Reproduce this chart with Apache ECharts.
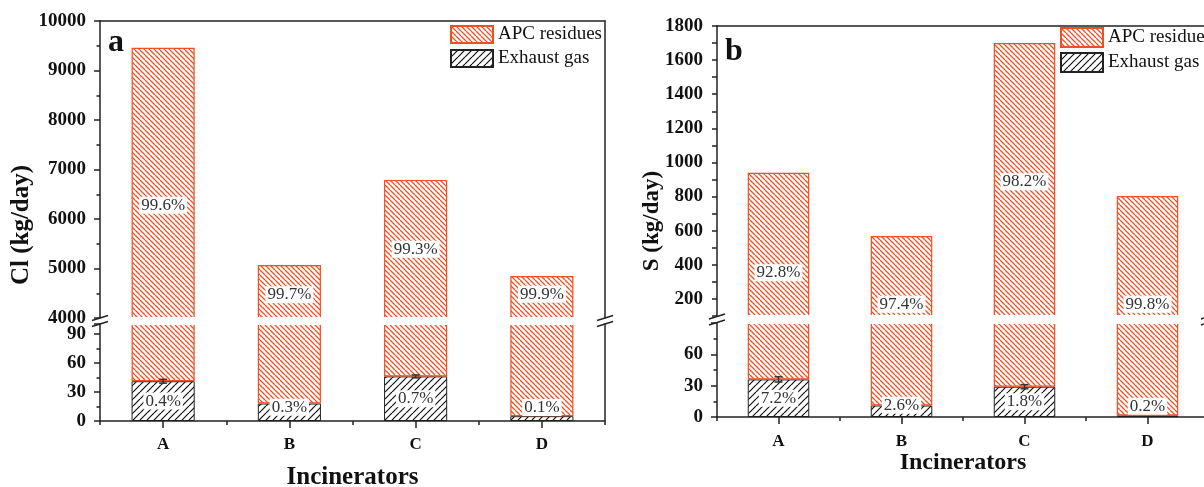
<!DOCTYPE html>
<html><head><meta charset="utf-8">
<script src="https://cdn.jsdelivr.net/npm/echarts@6/dist/echarts.min.js"></script>
<style>html,body{margin:0;padding:0;background:#fff}#c{width:1204px;height:487px}</style>
</head><body><div id="c"></div>
<script>
// ---------------- data ----------------
const categories = ['A', 'B', 'C', 'D'];
// Panel a : Cl (kg/day)
const clExhaust = [41, 18, 46, 5];
const clExhaustErr = [2, 0, 1.5, 0];
const clApc = [9420, 5052, 6744, 4845];
const clExhaustPct = ['0.4%', '0.3%', '0.7%', '0.1%'];
const clApcPct = ['99.6%', '99.7%', '99.3%', '99.9%'];
// Panel b : S (kg/day)
const sExhaust = [36, 11, 29, 1.5];
const sExhaustErr = [2.5, 0, 2, 0];
const sApc = [904, 558, 1671, 802];
const sExhaustPct = ['7.2%', '2.6%', '1.8%', '0.2%'];
const sApcPct = ['92.8%', '97.4%', '98.2%', '99.8%'];

// ---------------- styles / layout ----------------
const FONT = "'Liberation Serif', 'Times New Roman', serif";
const ORANGE = '#f04e23';
const DARK = '#222';
const LA = {left: 100, right: 605, upTop: 21, upBot: 318, loTop: 324, loBot: 421};
const LB = {left: 717, right: 1209, upTop: 26, upBot: 316, loTop: 323, loBot: 417};
// label pixel shifts (style only)
const clApcDy = [22, 3, 0, -3], clExhDy = [0, -5, 0, -11];
const sApcDy = [28, 28, 2, 48], sExhDy = [0, -6, 0, -10];

function hatch(color, dir, s, lw) {
  const c = document.createElement('canvas');
  c.width = s; c.height = s;
  const g = c.getContext('2d');
  g.fillStyle = '#fff'; g.fillRect(0, 0, s, s);
  g.strokeStyle = color; g.lineWidth = lw;
  g.beginPath();
  for (const k of [-s, 0, s]) {
    if (dir === '\\') { g.moveTo(k, 0); g.lineTo(k + s, s); }
    else { g.moveTo(k + s, 0); g.lineTo(k, s); }
  }
  g.stroke();
  return {image: c, repeat: 'repeat'};
}
const apcFill = hatch(ORANGE, '\\', 5, 1.3);
const exhFill = hatch('#111', '/', 7, 1.2);
const apcStyle = {color: apcFill, borderColor: ORANGE, borderWidth: 1.2};
const exhStyle = {color: exhFill, borderColor: DARK, borderWidth: 1};
const pctLabel = {show: true, position: 'inside', fontFamily: FONT, fontSize: 17, color: '#333',
  backgroundColor: '#fff', padding: [0, 2]};

function grid(L, up) {
  const g = up ? {left: L.left, top: L.upTop, width: L.right - L.left, height: L.upBot - L.upTop}
               : {left: L.left, top: L.loTop, width: L.right - L.left, height: L.loBot - L.loTop};
  g.outerBoundsMode = 'none';
  g.containLabel = false;
  return g;
}
const lineStyle = {color: DARK, width: 1.5};
const yLabel = {margin: 14, fontFamily: FONT, fontWeight: 'bold', fontSize: 19, color: '#111', formatter: v => String(v)};
function xTop(gi) {
  return {type: 'category', data: categories, gridIndex: gi, position: 'top',
    axisLine: {show: true, onZero: false, lineStyle}, axisTick: {show: false}, axisLabel: {show: false}};
}
function xBottom(gi, margin, nameGap, nameSize) {
  return {type: 'category', data: categories, gridIndex: gi, position: 'bottom',
    axisLine: {show: true, onZero: false, lineStyle},
    axisTick: {show: true, alignWithLabel: true, length: 7, lineStyle},
    axisLabel: {margin, fontFamily: FONT, fontWeight: 'bold', fontSize: 17, color: '#111'},
    name: 'Incinerators', nameLocation: 'middle', nameGap,
    nameTextStyle: {fontFamily: FONT, fontWeight: 'bold', fontSize: nameSize, color: '#111'}};
}
function xBoundary(gi) {
  return {type: 'category', data: categories, gridIndex: gi, position: 'bottom',
    axisLine: {show: false, onZero: false}, axisTick: {show: true, length: 4, lineStyle},
    axisLabel: {show: false}};
}
function yLeft(gi, min, max, interval, opts) {
  return Object.assign({type: 'value', gridIndex: gi, position: 'left', min, max, interval,
    axisLine: {show: true, lineStyle}, splitLine: {show: false},
    axisTick: {show: true, length: 6, lineStyle},
    minorTick: {show: true, splitNumber: 2, length: 3.5, lineStyle},
    axisLabel: yLabel}, opts || {});
}
function yRight(gi, min, max) {
  return {type: 'value', gridIndex: gi, position: 'right', min, max,
    axisLine: {show: true, lineStyle}, splitLine: {show: false}, axisTick: {show: false}, axisLabel: {show: false}};
}

function errSeries(xi, yi, vals, errs) {
  return {type: 'custom', xAxisIndex: xi, yAxisIndex: yi, z: 5,
    data: vals.map((v, i) => [i, v, errs[i]]).filter(d => d[2] > 0),
    renderItem: function (params, api) {
      const top = api.coord([api.value(0), api.value(1) + api.value(2)]);
      const bot = api.coord([api.value(0), api.value(1) - api.value(2)]);
      const w = 4, st = {stroke: '#333', lineWidth: 1.5};
      return {type: 'group', children: [
        {type: 'line', shape: {x1: top[0], y1: top[1], x2: bot[0], y2: bot[1]}, style: st},
        {type: 'line', shape: {x1: top[0] - w, y1: top[1], x2: top[0] + w, y2: top[1]}, style: st},
        {type: 'line', shape: {x1: bot[0] - w, y1: bot[1], x2: bot[0] + w, y2: bot[1]}, style: st}
      ]};
    }};
}

function panelSeries(tag, exh, apc, err, exhPct, apcPct, apcDy, exhDy, xu, yu, xl, yl) {
  return [
    {type: 'bar', name: 'Exhaust gas', xAxisIndex: xu, yAxisIndex: yu, stack: tag + 'u', barWidth: '50%',
      data: exh, itemStyle: exhStyle},
    {type: 'bar', name: 'APC residues', xAxisIndex: xu, yAxisIndex: yu, stack: tag + 'u', barWidth: '50%',
      data: apc.map((v, i) => ({value: v, label: {offset: [0, apcDy[i]]}})), itemStyle: apcStyle,
      label: Object.assign({}, pctLabel, {formatter: p => apcPct[p.dataIndex]})},
    {type: 'bar', name: 'Exhaust gas', xAxisIndex: xl, yAxisIndex: yl, stack: tag + 'l', barWidth: '50%',
      data: exh.map((v, i) => ({value: v, label: {offset: [0, exhDy[i]]}})), itemStyle: exhStyle,
      label: Object.assign({}, pctLabel, {formatter: p => exhPct[p.dataIndex]})},
    {type: 'bar', name: 'APC residues', xAxisIndex: xl, yAxisIndex: yl, stack: tag + 'l', barWidth: '50%',
      data: apc, itemStyle: apcStyle},
    errSeries(xl, yl, exh, err)
  ];
}

function breakMarks(L) {
  const ym = (L.upBot + L.loTop) / 2;
  const els = [{type: 'rect', z: 100, shape: {x: L.left + 1, y: L.upBot - 1, width: L.right - L.left - 2, height: L.loTop - L.upBot + 2},
    style: {fill: '#fff'}}];
  for (const x of [L.left, L.right]) {
    for (const d of [-3, 3]) {
      els.push({type: 'line', z: 101, shape: {x1: x - 8, y1: ym + d + 2.5, x2: x + 8, y2: ym + d - 2.5},
        style: {stroke: DARK, lineWidth: 1.5}});
    }
  }
  return els;
}
function txt(x, y, text, size, rot, align) {
  return {type: 'text', x, y, rotation: rot || 0, z: 102,
    style: {text, font: 'bold ' + size + 'px ' + FONT, fill: '#111', align: align || 'center', verticalAlign: 'middle'}};
}
function legend(left, top, h, gap) {
  return {left, top, orient: 'vertical', align: 'left', padding: 0, itemGap: gap, itemWidth: 42, itemHeight: h,
    icon: 'rect', selectedMode: false, data: ['APC residues', 'Exhaust gas'],
    textStyle: {fontFamily: FONT, fontSize: 19, color: '#111', padding: [0, 0, 0, 0]}, itemStyle: {borderColor: 'inherit'}};
}

const chart = echarts.init(document.getElementById('c'), null, {renderer: 'canvas'});
chart.setOption({
  backgroundColor: '#fff',
  animation: false,
  grid: [grid(LA, true), grid(LA, false), grid(LB, true), grid(LB, false)],
  xAxis: [xTop(0), xBottom(1, 15, 44, 25), xBoundary(1), xTop(2), xBottom(3, 16, 34, 24), xBoundary(3)],
  yAxis: [
    yLeft(0, 4000, 10000, 1000),
    yLeft(1, 0, 100, 30, {axisLabel: Object.assign({}, yLabel, {showMaxLabel: false})}),
    yRight(0, 4000, 10000), yRight(1, 0, 100),
    yLeft(2, 100, 1800, 100, {minorTick: {show: false},
      axisTick: {show: true, length: 5, lineStyle},
      axisLabel: Object.assign({}, yLabel, {formatter: v => (v % 200 === 0 ? String(v) : '')})}),
    yLeft(3, 0, 90, 30, {axisLabel: Object.assign({}, yLabel, {showMaxLabel: false})}),
    yRight(2, 100, 1800), yRight(3, 0, 90)
  ],
  legend: [legend(450, 25, 17, 5), legend(1060, 27, 19, 4)],
  series: [].concat(
    panelSeries('a', clExhaust, clApc, clExhaustErr, clExhaustPct, clApcPct, clApcDy, clExhDy, 0, 0, 1, 1),
    panelSeries('b', sExhaust, sApc, sExhaustErr, sExhaustPct, sApcPct, sApcDy, sExhDy, 3, 4, 4, 5)
  ),
  graphic: [].concat(
    breakMarks(LA), breakMarks(LB),
    [txt(22, 225, 'Cl (kg/day)', 25, Math.PI / 2),
     txt(652, 221, 'S (kg/day)', 23, Math.PI / 2),
     txt(108, 43, 'a', 32, 0, 'left'),
     txt(725, 52, 'b', 32, 0, 'left')]
  )
});
</script></body></html>
